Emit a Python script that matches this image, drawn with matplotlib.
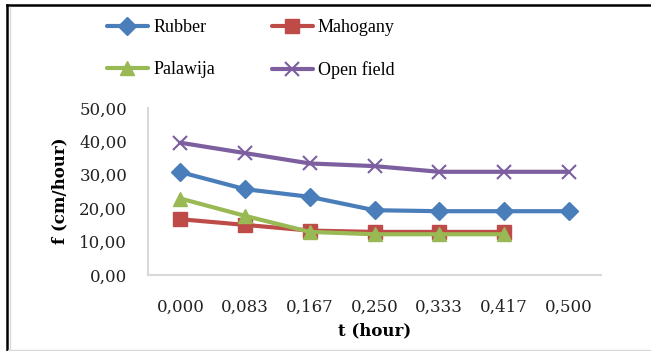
import matplotlib
matplotlib.use("Agg")
import matplotlib.pyplot as plt
from matplotlib.lines import Line2D

# Infiltration rate over time for each land cover
t_labels = ["0,000", "0,083", "0,167", "0,250", "0,333", "0,417", "0,500"]
rubber = [30.8, 25.7, 23.4, 19.4, 19.1, 19.1, 19.1]
mahogany = [16.7, 15.0, 13.3, 12.9, 12.9, 12.9]
palawija = [22.9, 17.7, 12.9, 12.2, 12.2, 12.2]
open_field = [39.6, 36.5, 33.4, 32.6, 30.9, 30.9, 30.9]
y_ticks = [0, 10, 20, 30, 40, 50]

plt.rcParams['font.family'] = ['DejaVu Serif']

W, H = 651, 351
fig = plt.figure(figsize=(W / 100, H / 100), dpi=100)

def px(x0, y0, x1, y1):
    return [x0 / W, 1 - y1 / H, (x1 - x0) / W, (y1 - y0) / H]

ax = fig.add_axes(px(148, 108, 601, 275))

x = list(range(len(t_labels)))
series = [
    ("Rubber", rubber, "#4a7ebb", "D", 9),
    ("Mahogany", mahogany, "#be4b48", "s", 10),
    ("Palawija", palawija, "#98b954", "^", 10),
    ("Open field", open_field, "#7d5fa0", "x", 10),
]
handles = {}
for name, vals, color, marker, ms in series:
    kw = dict(markeredgewidth=1.5) if marker == "x" else dict(markeredgecolor=color)
    (ln,) = ax.plot(x[:len(vals)], vals, color=color, lw=3, marker=marker,
                    markersize=ms, solid_capstyle="round", **kw)
    handles[name] = ln

ax.set_xlim(-0.5, len(t_labels) - 0.5)
ax.set_ylim(0, 50)
ax.set_yticks(y_ticks)
ax.set_yticklabels([f"{v},00" for v in y_ticks])
ax.set_xticks(x)
ax.set_xticklabels(t_labels)
ax.tick_params(axis="both", length=0, labelsize=12, colors="#222222")
ax.tick_params(axis="x", pad=17)
ax.tick_params(axis="y", pad=15)
for s in ["top", "right"]:
    ax.spines[s].set_visible(False)
for s in ["left", "bottom"]:
    ax.spines[s].set_color("#d9d9d9")
    ax.spines[s].set_linewidth(1.5)

ax.set_xlabel("t (hour)", fontweight="bold", fontsize=12, labelpad=5)
fig.text(60 / W, 1 - 191 / H, "f (cm/hour)", rotation=90, fontweight="bold",
         fontsize=12, ha="center", va="center")

# Legend in two rows above the plot
leg = fig.legend(
    [handles["Rubber"], handles["Palawija"], handles["Mahogany"], handles["Open field"]],
    ["Rubber", "Palawija", "Mahogany", "Open field"],
    ncol=2, loc="upper left", bbox_to_anchor=(107 / W, 1 - 19 / H),
    frameon=False, borderpad=0, borderaxespad=0,
    prop={"family": "Liberation Serif", "size": 13},
    handlelength=2.27, handletextpad=0.28,
    columnspacing=3.15, labelspacing=1.4,
)

# Frame around the figure
fig.add_artist(Line2D([7 / W, 7 / W], [1 - 5 / H, 0], color="black", lw=1.8,
                      transform=fig.transFigure))
fig.add_artist(Line2D([7 / W, 1], [1 - 5 / H, 1 - 5 / H], color="black", lw=1.8,
                      transform=fig.transFigure))
fig.add_artist(Line2D([10 / W, 10 / W], [1 - 7 / H, 0], color="#d9d9d9", lw=1,
                      transform=fig.transFigure))
fig.add_artist(Line2D([8 / W, 1], [1.5 / H, 1.5 / H], color="#d9d9d9", lw=1,
                      transform=fig.transFigure))

fig.savefig("out.png", dpi=100)
